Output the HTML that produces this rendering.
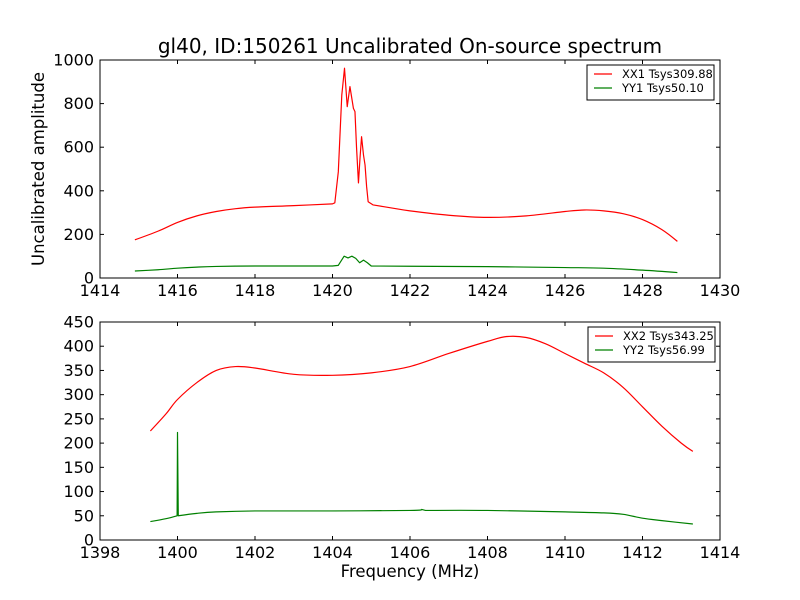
<!DOCTYPE html>
<html><head><meta charset="utf-8"><style>
html,body{margin:0;padding:0;background:#fff;}
svg{display:block;font-family:"DejaVu Sans","Liberation Sans",sans-serif;}
</style></head><body>
<svg id="c" width="800" height="600" viewBox="0 0 800 600"></svg>
<script>
// Top panel data
const topXX1F = [1414.9,1415.5,1416,1416.5,1417,1417.5,1418,1419,1420,1420.06,1420.15,1420.24,1420.31,1420.38,1420.45,1420.54,1420.58,1420.62,1420.67,1420.71,1420.75,1420.80,1420.84,1420.88,1420.92,1421.05,1421.5,1422,1423,1424,1425,1426,1426.5,1427,1427.5,1428,1428.5,1428.9];
const topXX1V = [175,215,255,285,305,318,325,332,340,345,487,840,962,786,878,778,763,600,436,550,648,564,518,420,350,335,322,308,288,278,285,305,312,308,295,268,222,168];
const topYY1F = [1414.9,1415.5,1416,1416.5,1417,1418,1420,1420.15,1420.3,1420.4,1420.5,1420.6,1420.7,1420.8,1420.9,1421,1422,1424,1426,1427,1428,1428.9];
const topYY1V = [32,38,45,50,53,55,55,58,100,92,100,90,70,82,70,55,54,52,48,45,36,25];
// Bottom panel data
const botXX2F = [1399.3,1399.7,1400,1400.5,1401,1401.5,1402,1403,1404,1405,1406,1407,1408,1408.5,1409,1409.5,1410,1410.5,1411,1411.5,1412,1412.5,1413,1413.3];
const botXX2V = [225,260,290,325,350,358,355,342,340,345,358,385,410,420,418,405,385,365,345,315,275,235,200,183];
const botYY2F = [1399.3,1399.7,1399.99,1400.0,1400.02,1400.5,1401,1402,1404,1406,1406.3,1406.4,1408,1410,1411,1411.5,1412,1412.5,1413.3];
const botYY2V = [38,44,50,222,50,55,58,60,60,61,63,61,61,58,56,53,45,40,33];
const topXTicks = [1414,1416,1418,1420,1422,1424,1426,1428,1430];
const topYTicks = [0,200,400,600,800,1000];
const botXTicks = [1398,1400,1402,1404,1406,1408,1410,1412,1414];
const botYTicks = [0,50,100,150,200,250,300,350,400,450];

const NS="http://www.w3.org/2000/svg";
const svg=document.getElementById('c');
function mk(tag,attrs,parent){const e=document.createElementNS(NS,tag);for(const k in attrs)e.setAttribute(k,attrs[k]);(parent||svg).appendChild(e);return e;}

function pathD(pts){
  let d='M'+pts[0][0].toFixed(2)+' '+pts[0][1].toFixed(2);
  for(let i=0;i<pts.length-1;i++){
    const p0=pts[i-1]||pts[i],p1=pts[i],p2=pts[i+1],p3=pts[i+2]||pts[i+1];
    if(p2[0]-p1[0]<8){d+=' L'+p2[0].toFixed(2)+' '+p2[1].toFixed(2);continue;}
    const k=(i===0||p1[0]-p0[0]<8)?0:1/6;
    const k2=(i+2>=pts.length||p3[0]-p2[0]<8)?0:1/6;
    const c1=[p1[0]+(p2[0]-p0[0])*k,p1[1]+(p2[1]-p0[1])*k];
    const c2=[p2[0]-(p3[0]-p1[0])*k2,p2[1]-(p3[1]-p1[1])*k2];
    d+=' C'+c1.map(v=>v.toFixed(2)).join(' ')+' '+c2.map(v=>v.toFixed(2)).join(' ')+' '+p2[0].toFixed(2)+' '+p2[1].toFixed(2);
  }
  return d;
}

function panel(o){
  const g=mk('g',{});
  
  
  const sx=v=>o.x0+(v-o.xmin)/(o.xmax-o.xmin)*(o.x1-o.x0);
  const sy=v=>o.y1-(v-o.ymin)/(o.ymax-o.ymin)*(o.y1-o.y0);
  o.series.forEach(s=>{
    const pts=s.f.map((f,i)=>[sx(f),sy(s.v[i])]);
    const p=mk('path',{d:pathD(pts),fill:'none',stroke:s.color,'stroke-width':1.2,'stroke-linejoin':'round'},g);
    
    
  });
  const fr=mk('rect',{x:o.x0,y:o.y0,width:o.x1-o.x0,height:o.y1-o.y0,fill:'none',stroke:'#000','stroke-width':1},g);
  
  
  o.xt.forEach(t=>{
    const x=sx(t);
    mk('line',{x1:x,x2:x,y1:o.y1,y2:o.y1-4,stroke:'#000'},g);
    mk('line',{x1:x,x2:x,y1:o.y0,y2:o.y0+4,stroke:'#000'},g);
    const tx=mk('text',{x:x,y:o.y1+18,'text-anchor':'middle','font-size':16},g);
    tx.textContent=t;
    
    
  });
  o.yt.forEach(t=>{
    const y=sy(t);
    mk('line',{x1:o.x0,x2:o.x0+4,y1:y,y2:y,stroke:'#000'},g);
    mk('line',{x1:o.x1,x2:o.x1-4,y1:y,y2:y,stroke:'#000'},g);
    const tx=mk('text',{x:o.x0-6,y:y+5.5,'text-anchor':'end','font-size':16},g);
    tx.textContent=t;
    
    
  });
  const lg=mk('g',{},g);
  
  
  mk('rect',{x:o.lx,y:o.ly,width:127,height:35,fill:'#fff',stroke:'#000','stroke-width':1},lg);
  o.series.forEach((s,i)=>{
    const yy=o.ly+9+i*14;
    mk('line',{x1:o.lx+7,x2:o.lx+25,y1:yy,y2:yy,stroke:s.color,'stroke-width':1.2},lg);
    const t=mk('text',{x:o.lx+35,y:yy+4,'font-size':11.5},lg);
    t.textContent=s.label;
    
    
  });
}

panel({name:'top-panel',x0:100,x1:720,y0:60,y1:278,xmin:1414,xmax:1430,ymin:0,ymax:1000,xt:topXTicks,yt:topYTicks,lx:587,ly:65,
  series:[{name:'xx1-line',f:topXX1F,v:topXX1V,color:'#ff0000',label:'XX1 Tsys309.88'},{name:'yy1-line',f:topYY1F,v:topYY1V,color:'#008000',label:'YY1 Tsys50.10'}]});
panel({name:'bottom-panel',x0:100,x1:720,y0:322,y1:540,xmin:1398,xmax:1414,ymin:0,ymax:450,xt:botXTicks,yt:botYTicks,lx:588,ly:327,
  series:[{name:'xx2-line',f:botXX2F,v:botXX2V,color:'#ff0000',label:'XX2 Tsys343.25'},{name:'yy2-line',f:botYY2F,v:botYY2V,color:'#008000',label:'YY2 Tsys56.99'}]});

let t=mk('text',{x:410,y:53,'text-anchor':'middle','font-size':20});
t.textContent='gl40, ID:150261 Uncalibrated On-source spectrum';


t=mk('text',{x:44,y:169,'text-anchor':'middle','font-size':16.5,transform:'rotate(-90 44 169)'});
t.textContent='Uncalibrated amplitude';


t=mk('text',{x:410,y:577,'text-anchor':'middle','font-size':16.5});
t.textContent='Frequency (MHz)';


</script>
</body></html>
